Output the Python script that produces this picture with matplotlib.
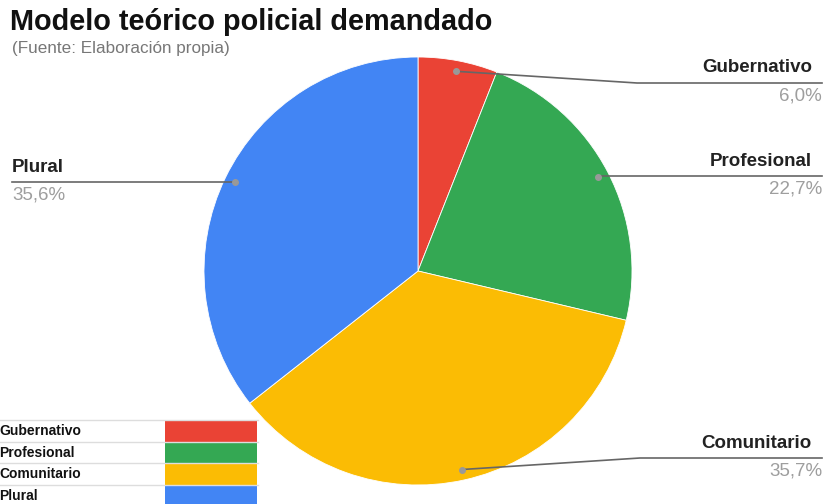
import numpy as np
import matplotlib
matplotlib.use("Agg")
import matplotlib.pyplot as plt
from matplotlib.patches import Rectangle

# data
categories = ["Gubernativo", "Profesional", "Comunitario", "Plural"]
values = [6.0, 22.7, 35.7, 35.6]
colors = ["#EA4335", "#34A853", "#FBBC04", "#4285F4"]

title = "Modelo teórico policial demandado"
subtitle = "(Fuente: Elaboración propia)"

plt.rcParams['font.family'] = ['Liberation Sans', 'DejaVu Sans']

W, H = 827, 504
fig = plt.figure(figsize=(W / 100, H / 100), dpi=100)
ax = fig.add_axes([0, 0, 1, 1])

# pie geometry in pixel coords (y down)
cx, cy, r = 418, 271, 214
ax.pie(values, colors=colors, center=(cx, cy), radius=r, startangle=-90,
       counterclock=True, wedgeprops=dict(edgecolor="white", linewidth=0.6))
ax.set_xlim(0, W)
ax.set_ylim(H, 0)
ax.set_aspect("equal")
ax.axis("off")

# leader lines + labels
# (side, line y, elbow x or None)
layout = [("right", 83, 637), ("right", 176, None), ("right", 458, 640), ("left", 182, None)]
total = sum(values)
cum = np.cumsum([0] + values[:-1])
for i, (name, v) in enumerate(zip(categories, values)):
    t = 2 * np.pi * (cum[i] + v / 2) / total
    dx, dy = cx + 0.95 * r * np.sin(t), cy - 0.95 * r * np.cos(t)
    side, ly, ex = layout[i]
    if ex is None:
        ex = dx
    end = 822 if side == "right" else 12
    ax.plot([dx, ex, end], [dy, ly, ly], color="#666666", lw=1.2, zorder=5)
    ax.plot(dx, dy, "o", ms=4, color="#999999", zorder=6)
    pct = f"{v:.1f}%".replace(".", ",")
    if side == "right":
        ax.text(812, ly - 15, name, ha="right", va="center", fontsize=13.5,
                fontweight="bold", color="#222222")
        ax.text(822, ly + 13, pct, ha="right", va="center", fontsize=13.5, color="#9e9e9e")
    else:
        ax.text(12, ly - 15, name, ha="left", va="center", fontsize=13.5,
                fontweight="bold", color="#222222")
        ax.text(12, ly + 13, pct, ha="left", va="center", fontsize=13.5, color="#9e9e9e")

# title
ax.text(10, 22, title, ha="left", va="center", fontsize=20.8, fontweight="bold", color="#111111")
ax.text(12, 48, subtitle, ha="left", va="center", fontsize=12.3, color="#777777")

# legend table bottom-left
row_top = [420, 442, 463, 485]
row_h = 21.5
ax.add_patch(Rectangle((0, 420), 258, 90, facecolor="white", edgecolor="none", zorder=7))
for i, name in enumerate(categories):
    y0 = row_top[i]
    ax.add_patch(Rectangle((165, y0), 92, row_h, facecolor=colors[i], edgecolor="none", zorder=8))
    ax.plot([0, 258], [y0, y0], color="#dddddd", lw=1, zorder=9)
    ax.text(-1, y0 + row_h / 2, name, ha="left", va="center", fontsize=10,
            fontweight="bold", color="#111111", zorder=10)

fig.savefig("out.png", dpi=100)
